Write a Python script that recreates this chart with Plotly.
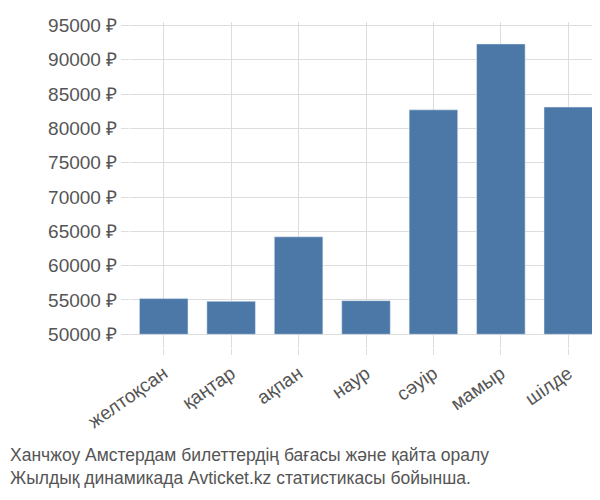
import plotly.graph_objects as go

months = ["желтоқсан", "қаңтар", "ақпан", "наур", "сәуір", "мамыр", "шілде"]
prices = [55200, 54800, 64200, 54900, 82700, 92300, 83100]
tick_vals = list(range(50000, 95001, 5000))
tick_text = [f"{v} ₽" for v in tick_vals]

fig = go.Figure(go.Bar(
    x=months,
    y=[p - 50000 for p in prices],
    base=50000,
    marker=dict(color="#4c78a8"),
    width=0.72,
))

fig.update_layout(
    width=600, height=500, autosize=False,
    margin=dict(l=122, r=6, t=14, b=160),
    plot_bgcolor="white", paper_bgcolor="white",
    font=dict(family="Liberation Sans, Arial", size=19, color="#555"),
    showlegend=False,
    xaxis=dict(tickangle=-35, showgrid=True, gridcolor="#ddd", ticks="outside",
               tickcolor="#ddd", ticklen=6, range=[-0.5, 6.5],
               tickfont=dict(size=19, color="#555")),
    yaxis=dict(range=[48000, 95500], tickvals=tick_vals, ticktext=tick_text,
               showgrid=True, gridcolor="#ddd", ticks="outside", tickcolor="#ddd",
               ticklen=8, tickfont=dict(size=19, color="#555")),
)
fig.add_annotation(
    text="Ханчжоу Амстердам билеттердің бағасы және қайта оралу<br>Жылдық динамикада Avticket.kz статистикасы бойынша.",
    xref="paper", yref="paper", x=-0.258, y=-0.29, xanchor="left", yanchor="top",
    showarrow=False, align="left", font=dict(size=17.5, color="#555"),
)
fig.write_html("out.html")
